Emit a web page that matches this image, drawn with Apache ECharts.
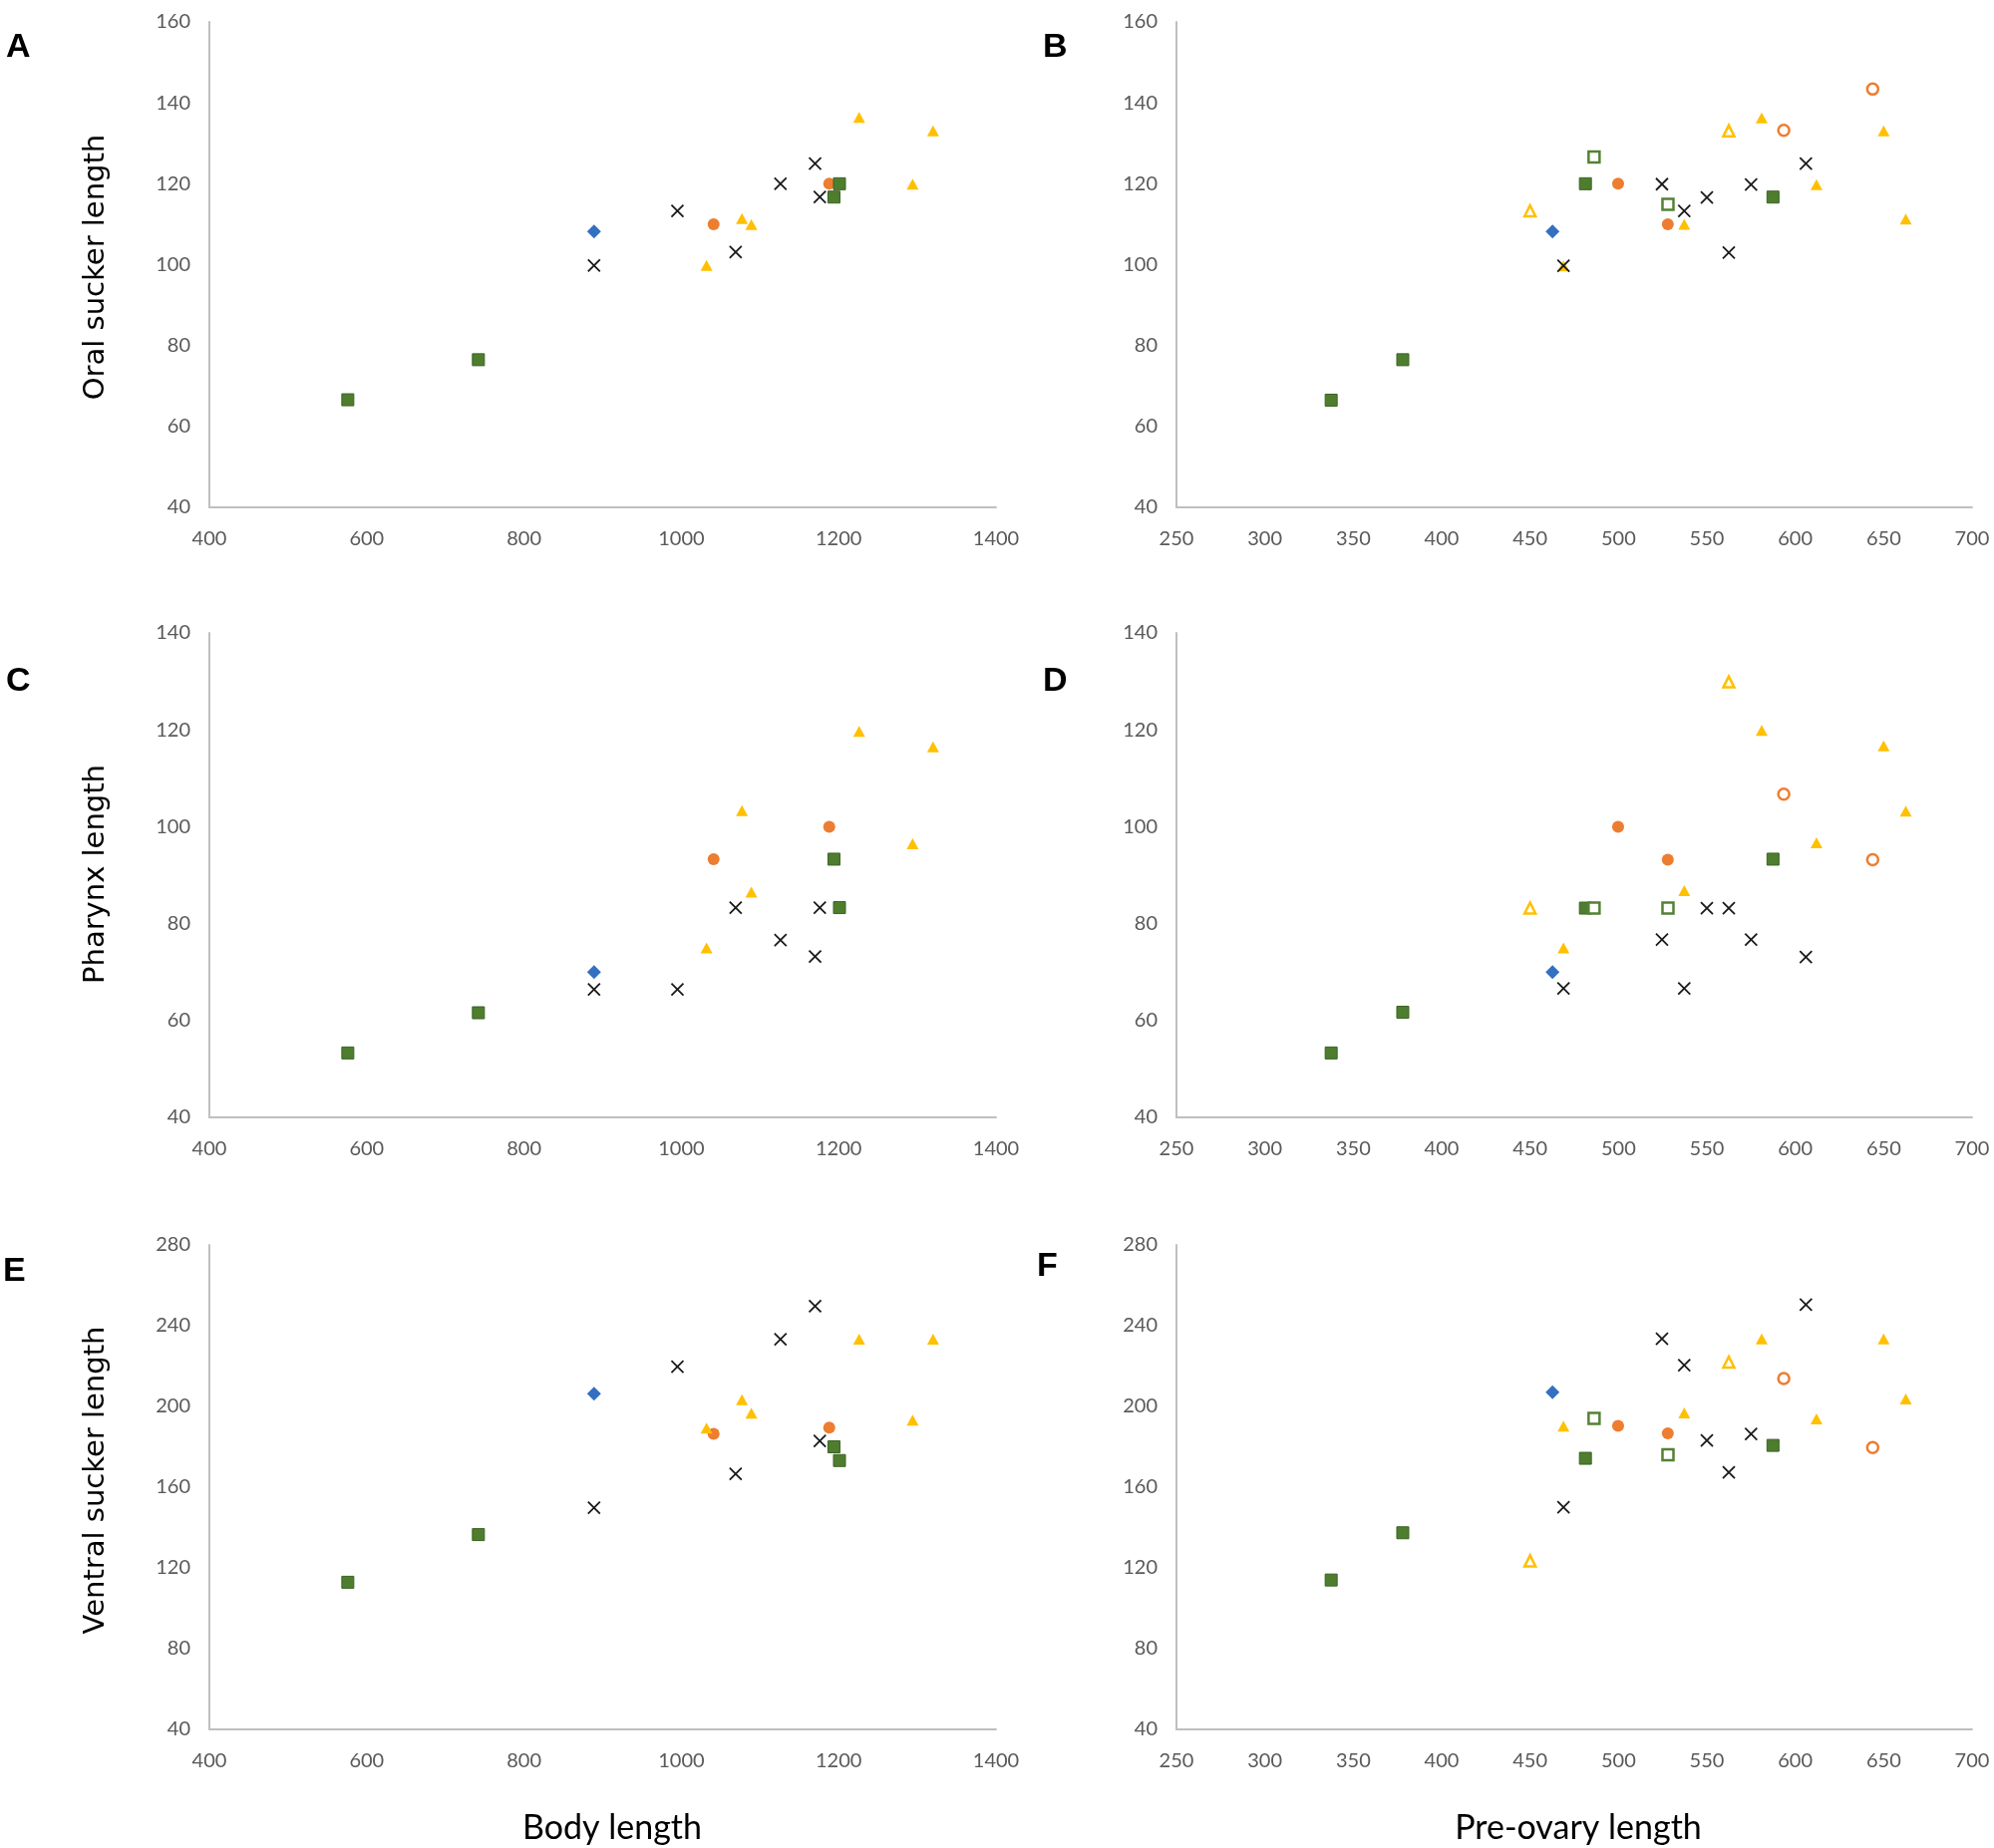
<!DOCTYPE html>
<html>
<head>
<meta charset="utf-8">
<script src="https://cdn.jsdelivr.net/npm/echarts@6/dist/echarts.min.js"></script>
<style>
  html, body { margin: 0; padding: 0; background: #fff; }
  #chart { width: 2000px; height: 1854px; }
</style>
</head>
<body>
<div id="chart"></div>
<script>
// x values: body length (panels A, C, E)
const bodyBlue = [889];
const bodyOrange = [1041, 1188];
const bodyYellow = [1032, 1077, 1089, 1226, 1294, 1320];
const bodyGreen = [576, 742, 1194, 1201];
const bodyCross = [889, 995, 1069, 1126, 1170, 1176];

// A: oral sucker length vs body length
const oralBlueA = [108.2];
const oralOrangeA = [110, 120];
const oralYellowA = [99.8, 111.4, 109.9, 136.4, 119.9, 133.1];
const oralGreenA = [66.6, 76.5, 116.7, 120];
const oralCrossA = [99.8, 113.3, 103.1, 120, 125, 116.7];

// C: pharynx length vs body length
const pharBlueC = [70];
const pharOrangeC = [93.3, 100];
const pharYellowC = [75, 103.3, 86.5, 119.7, 96.5, 116.5];
const pharGreenC = [53.3, 61.6, 93.3, 83.3];
const pharCrossC = [66.4, 66.4, 83.3, 76.6, 73.2, 83.3];

// E: ventral sucker length vs body length
const ventBlueE = [206.3];
const ventOrangeE = [186.4, 189.5];
const ventYellowE = [189.3, 203.3, 196.7, 233.3, 193.2, 233.3];
const ventGreenE = [112.9, 136.5, 180, 173.2];
const ventCrossE = [149.8, 219.7, 166.6, 233.3, 249.7, 182.9];

// x values: pre-ovary length (panels B, D, F)
const preBlue = [462.7];
const preOrange = [499.8, 527.9];
const preOrangeOpen = [593.5, 643.8];
const preYellow = [468.9, 537.2, 581, 612, 650, 662.5];
const preYellowOpen = [450, 562.4];
const preGreen = [337.5, 378, 481.3, 587.4];
const preGreenOpen = [486.2, 528];
const preCross = [468.9, 524.6, 537.2, 550, 562.4, 575, 606];

// B: oral sucker length vs pre-ovary length
const oralBlueB = [108.2];
const oralOrangeB = [120, 110];
const oralOrangeOpenB = [133.2, 143.4];
const oralYellowB = [99.7, 110, 136.3, 119.8, 133.1, 111.3];
const oralYellowOpenB = [113.3, 133.1];
const oralGreenB = [66.5, 76.5, 120, 116.7];
const oralGreenOpenB = [126.6, 114.9];
const oralCrossB = [99.7, 119.9, 113.3, 116.6, 103, 119.8, 125];

// D: pharynx length vs pre-ovary length
const pharBlueD = [70];
const pharOrangeD = [100, 93.2];
const pharOrangeOpenD = [106.7, 93.2];
const pharYellowD = [75, 86.8, 119.9, 96.7, 116.7, 103.2];
const pharYellowOpenD = [83.2, 129.9];
const pharGreenD = [53.3, 61.7, 83.2, 93.3];
const pharGreenOpenD = [83.2, 83.2];
const pharCrossD = [66.6, 76.7, 66.6, 83.2, 83.2, 76.7, 73.1];

// F: ventral sucker length vs pre-ovary length
const ventBlueF = [207];
const ventOrangeF = [190.4, 186.7];
const ventOrangeOpenF = [213.8, 179.6];
const ventYellowF = [190.3, 196.8, 233.5, 193.8, 233.5, 203.7];
const ventYellowOpenF = [123.5, 222];
const ventGreenF = [114, 137.4, 174.3, 180.7];
const ventGreenOpenF = [194.1, 176.1];
const ventCrossF = [150.1, 233.5, 220.4, 183.2, 167.3, 186.4, 250.4];

const panelLetters = ['A', 'B', 'C', 'D', 'E', 'F'];
const yTitles = ['Oral sucker length', 'Pharynx length', 'Ventral sucker length'];
const xTitles = ['Body length', 'Pre-ovary length'];

const markers = {
  blue: { symbol: 'diamond', symbolSize: 14, itemStyle: { color: '#3470C0' } },
  orange: { symbol: 'circle', symbolSize: 12, itemStyle: { color: '#ED7D31' } },
  orangeOpen: { symbol: 'circle', symbolSize: 11, itemStyle: { color: '#fff', borderColor: '#ED7D31', borderWidth: 2.5 } },
  yellow: { symbol: 'triangle', symbolSize: [12, 11], itemStyle: { color: '#FFC000' } },
  yellowOpen: { symbol: 'triangle', symbolSize: [11, 11], itemStyle: { color: '#fff', borderColor: '#FFC000', borderWidth: 2.5 } },
  green: { symbol: 'rect', symbolSize: 12, itemStyle: { color: '#4E7D2E', borderColor: '#3b6324', borderWidth: 1 } },
  greenOpen: { symbol: 'rect', symbolSize: 11, itemStyle: { color: '#fff', borderColor: '#548235', borderWidth: 2.5 } },
  cross: { symbol: 'path://M0,0L10,10M10,0L0,10', symbolSize: 12, itemStyle: { color: 'none', borderColor: '#1a1a1a', borderWidth: 1.8 } }
};

var chart = echarts.init(document.getElementById('chart'), null, { renderer: 'canvas' });

var labelFont = 'Lato, "Liberation Sans", sans-serif';
var lefts = [210, 1180];
var widths = [789, 798];
var tops = [22, 635, 1249];
var heights = [487, 486, 486];

var grids = [], xAxes = [], yAxes = [], series = [];
var yRanges = [[40, 160, 20], [40, 140, 20], [40, 280, 40]];
var xRanges = [[400, 1400, 200], [250, 700, 50]];

function plain(v) { return String(v); }

for (var i = 0; i < 6; i++) {
  var row = Math.floor(i / 2), col = i % 2;
  grids.push({ left: lefts[col], top: tops[row], width: widths[col], height: heights[row] });
  var axisCommon = {
    axisLine: { show: true, onZero: false, lineStyle: { color: '#bfbfbf', width: 2 } },
    axisTick: { show: false },
    splitLine: { show: false }
  };
  xAxes.push(Object.assign({}, axisCommon, {
    type: 'value', gridIndex: i,
    min: xRanges[col][0], max: xRanges[col][1], interval: xRanges[col][2],
    axisLabel: { color: '#595959', fontFamily: labelFont, fontSize: 20, margin: 22, formatter: plain }
  }));
  yAxes.push(Object.assign({}, axisCommon, {
    type: 'value', gridIndex: i,
    min: yRanges[row][0], max: yRanges[row][1], interval: yRanges[row][2],
    axisLabel: { color: '#595959', fontFamily: labelFont, fontSize: 20, margin: 19, formatter: plain }
  }));
}

function pts(xs, ys) {
  return xs.map(function (x, k) { return [x, ys[k]]; });
}
function add(gi, key, xs, ys) {
  var m = markers[key];
  series.push({
    type: 'scatter', xAxisIndex: gi, yAxisIndex: gi,
    symbol: m.symbol, symbolSize: m.symbolSize,
    itemStyle: Object.assign({ opacity: 1 }, m.itemStyle),
    silent: true, data: pts(xs, ys)
  });
}

// left column (body length)
add(0, 'blue', bodyBlue, oralBlueA);
add(0, 'orange', bodyOrange, oralOrangeA);
add(0, 'yellow', bodyYellow, oralYellowA);
add(0, 'green', bodyGreen, oralGreenA);
add(0, 'cross', bodyCross, oralCrossA);

add(2, 'blue', bodyBlue, pharBlueC);
add(2, 'orange', bodyOrange, pharOrangeC);
add(2, 'yellow', bodyYellow, pharYellowC);
add(2, 'green', bodyGreen, pharGreenC);
add(2, 'cross', bodyCross, pharCrossC);

add(4, 'blue', bodyBlue, ventBlueE);
add(4, 'orange', bodyOrange, ventOrangeE);
add(4, 'yellow', bodyYellow, ventYellowE);
add(4, 'green', bodyGreen, ventGreenE);
add(4, 'cross', bodyCross, ventCrossE);

// right column (pre-ovary length)
add(1, 'blue', preBlue, oralBlueB);
add(1, 'orange', preOrange, oralOrangeB);
add(1, 'orangeOpen', preOrangeOpen, oralOrangeOpenB);
add(1, 'yellow', preYellow, oralYellowB);
add(1, 'yellowOpen', preYellowOpen, oralYellowOpenB);
add(1, 'green', preGreen, oralGreenB);
add(1, 'greenOpen', preGreenOpen, oralGreenOpenB);
add(1, 'cross', preCross, oralCrossB);

add(3, 'blue', preBlue, pharBlueD);
add(3, 'orange', preOrange, pharOrangeD);
add(3, 'orangeOpen', preOrangeOpen, pharOrangeOpenD);
add(3, 'yellow', preYellow, pharYellowD);
add(3, 'yellowOpen', preYellowOpen, pharYellowOpenD);
add(3, 'green', preGreen, pharGreenD);
add(3, 'greenOpen', preGreenOpen, pharGreenOpenD);
add(3, 'cross', preCross, pharCrossD);

add(5, 'blue', preBlue, ventBlueF);
add(5, 'orange', preOrange, ventOrangeF);
add(5, 'orangeOpen', preOrangeOpen, ventOrangeOpenF);
add(5, 'yellow', preYellow, ventYellowF);
add(5, 'yellowOpen', preYellowOpen, ventYellowOpenF);
add(5, 'green', preGreen, ventGreenF);
add(5, 'greenOpen', preGreenOpen, ventGreenOpenF);
add(5, 'cross', preCross, ventCrossF);

// titles and panel letters
var letterPos = [[6, 48], [1046, 48], [6, 684], [1046, 684], [3, 1276], [1040, 1271]];
var graphics = [];
panelLetters.forEach(function (l, k) {
  graphics.push({
    type: 'text', x: letterPos[k][0], y: letterPos[k][1],
    style: { text: l, font: 'bold 34px "Liberation Sans", Arial, sans-serif', fill: '#000', textAlign: 'left', textVerticalAlign: 'middle' }
  });
});
var yTitleY = [268, 877, 1485];
yTitles.forEach(function (t, k) {
  graphics.push({
    type: 'text', x: 96, y: yTitleY[k], rotation: Math.PI / 2,
    style: { text: t, font: '29px "DejaVu Sans", Verdana, sans-serif', fill: '#000', textAlign: 'center', textVerticalAlign: 'middle' }
  });
});
var xTitleX = [614, 1583];
xTitles.forEach(function (t, k) {
  graphics.push({
    type: 'text', x: xTitleX[k], y: 1834,
    style: { text: t, font: '34px Lato, sans-serif', fill: '#000', textAlign: 'center', textVerticalAlign: 'middle' }
  });
});

var option = {
  backgroundColor: '#fff',
  animation: false,
  grid: grids,
  xAxis: xAxes,
  yAxis: yAxes,
  series: series,
  graphic: graphics
};
chart.setOption(option);
</script>
</body>
</html>
